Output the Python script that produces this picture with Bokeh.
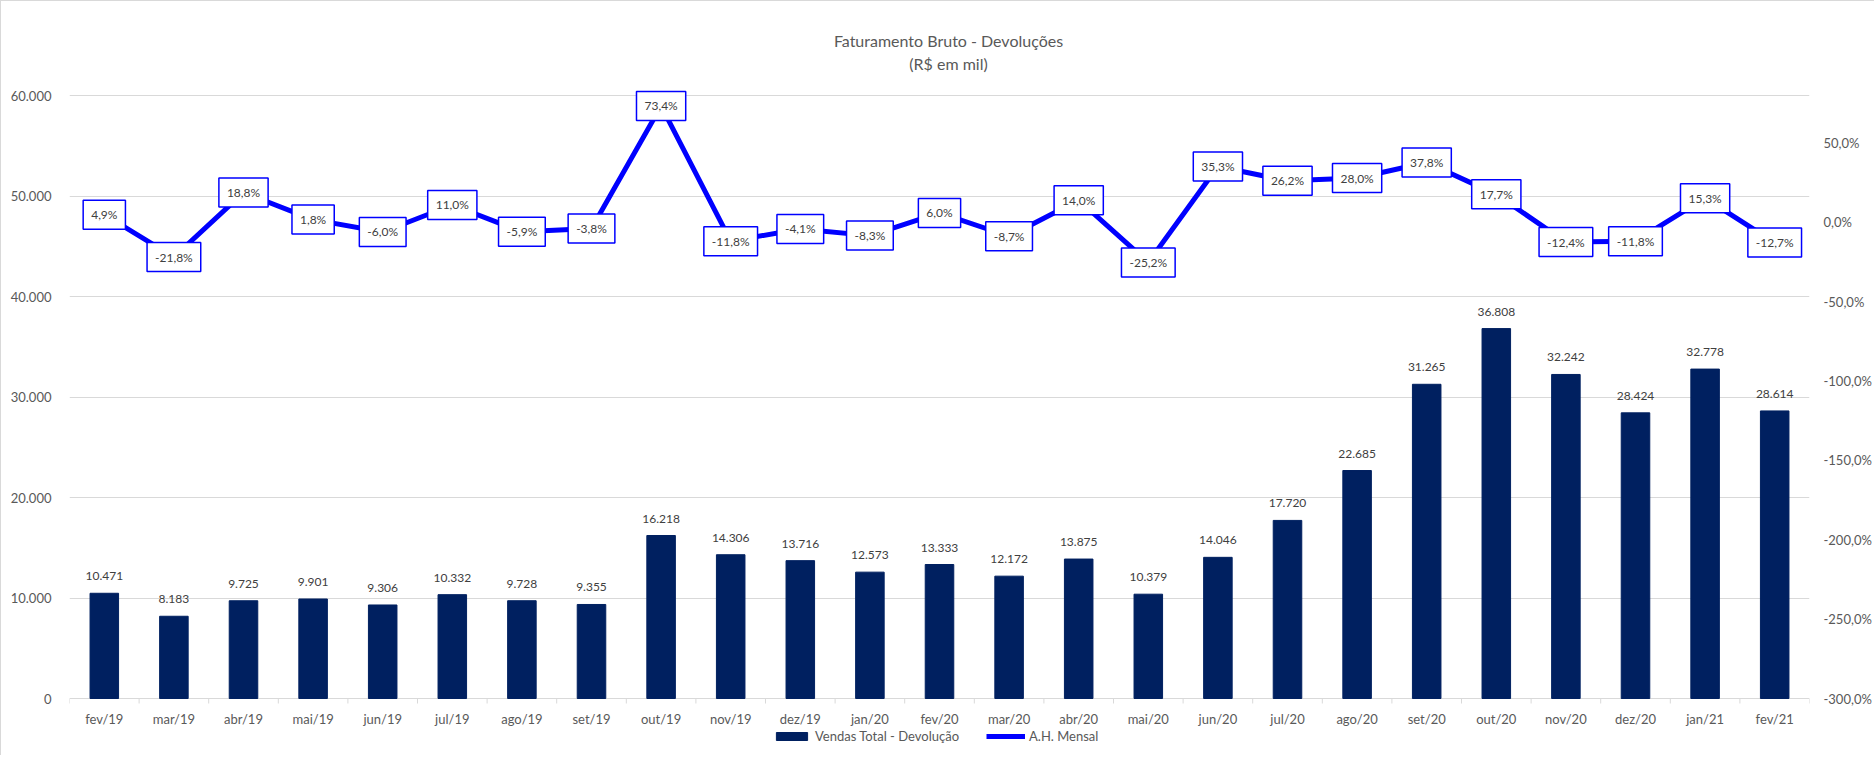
from bokeh.plotting import figure
from bokeh.models import (Range1d, LinearAxis, FixedTicker, LabelSet, Label, ColumnDataSource,
                          Legend, LegendItem)
from bokeh.core.properties import value
from bokeh.embed import file_html
from bokeh.resources import INLINE

months = ["fev/19", "mar/19", "abr/19", "mai/19", "jun/19", "jul/19", "ago/19", "set/19",
          "out/19", "nov/19", "dez/19", "jan/20", "fev/20", "mar/20", "abr/20", "mai/20",
          "jun/20", "jul/20", "ago/20", "set/20", "out/20", "nov/20", "dez/20", "jan/21", "fev/21"]
vendas = [10471, 8183, 9725, 9901, 9306, 10332, 9728, 9355, 16218, 14306, 13716, 12573,
          13333, 12172, 13875, 10379, 14046, 17720, 22685, 31265, 36808, 32242, 28424, 32778, 28614]
ah_mensal = [4.9, -21.8, 18.8, 1.8, -6.0, 11.0, -5.9, -3.8, 73.4, -11.8, -4.1, -8.3,
             6.0, -8.7, 14.0, -25.2, 35.3, 26.2, 28.0, 37.8, 17.7, -12.4, -11.8, 15.3, -12.7]
left_ticks = [0, 10000, 20000, 30000, 40000, 50000, 60000]
right_ticks = [-300, -250, -200, -150, -100, -50, 0, 50]
title_lines = ["Faturamento Bruto - Devoluções", "(R$ em mil)"]
series_names = ["Vendas Total - Devolução", "A.H. Mensal"]

FONT = "Lato"
GRAY = "#595959"
GRID = "#D9D9D9"

# vertical layout (px): axis span, space above it (titles) and below it (month labels, legend)
AXIS_PX = 603
TOP_PX = 84
BOTTOM_PX = 57
FRAME_PX = AXIS_PX + TOP_PX + BOTTOM_PX
L_MIN, L_MAX = 0, 60000
R_MIN, R_MAX = -300, 80
l_per_px = (L_MAX - L_MIN) / AXIS_PX
r_per_px = (R_MAX - R_MIN) / AXIS_PX

x = list(range(len(months)))
src = ColumnDataSource(dict(
    x=x,
    vendas=vendas,
    ah=ah_mensal,
    zero=[0] * len(months),
    month=months,
    vendas_lbl=[f"{v:,}".replace(",", ".") for v in vendas],
))
bounds = [i - 0.5 for i in range(len(months) + 1)]

p = figure(frame_width=1740, frame_height=FRAME_PX, output_backend="svg",
           toolbar_location=None, x_axis_location=None,
           x_range=Range1d(-0.5, len(months) - 0.5),
           y_range=Range1d(L_MIN - BOTTOM_PX * l_per_px, L_MAX + TOP_PX * l_per_px),
           min_border_left=68, min_border_right=0, min_border_top=10, min_border_bottom=0)
p.extra_y_ranges = {"pct": Range1d(R_MIN - BOTTOM_PX * r_per_px, R_MAX + TOP_PX * r_per_px)}
p.outline_line_color = None
p.background_fill_color = "white"
p.border_fill_color = "white"
p.styles = {"border-left": "1px solid #D9D9D9", "border-top": "1px solid #D9D9D9"}

bars = p.vbar(x="x", top="vendas", width=0.41, source=src, fill_color="#002060",
              line_color="#002060")
line = p.line(x="x", y="ah", source=src, y_range_name="pct", line_width=5,
              line_color="#0000FF", line_join="round")

# category axis: tick marks on category boundaries and month labels below the zero line
p.segment(x0=bounds, y0=[0] * len(bounds), x1=bounds, y1=[-5 * l_per_px] * len(bounds),
          line_color=GRID, line_width=1)
p.add_layout(LabelSet(x="x", y="zero", text="month", source=src, y_offset=-20,
                      text_align="center", text_baseline="middle",
                      text_font=value(FONT), text_font_size=value("13px"),
                      text_color=GRAY))

ya = p.yaxis[0]
ya.ticker = FixedTicker(ticks=left_ticks)
ya.major_label_overrides = {t: f"{t:,}".replace(",", ".") for t in left_ticks}
ya.axis_line_color = None
ya.major_tick_line_color = None
ya.minor_tick_line_color = None
ya.major_label_standoff = 12
ya.major_label_text_font = FONT
ya.major_label_text_font_size = "13px"
ya.major_label_text_color = GRAY

ra = LinearAxis(y_range_name="pct", ticker=FixedTicker(ticks=right_ticks))
ra.major_label_overrides = {t: f"{t:.1f}%".replace(".", ",") for t in right_ticks}
ra.axis_line_color = None
ra.major_tick_line_color = None
ra.minor_tick_line_color = None
ra.major_label_standoff = 8
ra.major_label_text_font = FONT
ra.major_label_text_font_size = "13px"
ra.major_label_text_color = GRAY
p.add_layout(ra, "right")

p.xgrid.visible = False
p.ygrid.ticker = FixedTicker(ticks=left_ticks)
p.ygrid.grid_line_color = GRID

# titles
xc = (len(months) - 1) / 2
for t, dy in zip(title_lines, [55, 32]):
    p.add_layout(Label(x=xc, y=L_MAX, x_offset=9, y_offset=dy, text=t, text_align="center",
                       text_baseline="middle", text_font=FONT, text_font_size="16px",
                       text_color=GRAY))

# data labels
p.add_layout(LabelSet(x="x", y="vendas", text="vendas_lbl", source=src, y_offset=17,
                      text_align="center", text_baseline="middle",
                      text_font=value(FONT), text_font_size=value("12px"),
                      text_color="#404040"))
for xi, yi in zip(x, ah_mensal):
    p.add_layout(Label(x=xi, y=yi, text=f"{yi:.1f}%".replace(".", ","), y_range_name="pct",
                       text_align="center", text_baseline="middle",
                       text_font=FONT, text_font_size="12px",
                       text_color="#404040", background_fill_color="white",
                       border_line_color="#0000FF", border_line_width=1.5,
                       padding=(8, 7)))

legend = Legend(items=[LegendItem(label=series_names[0], renderers=[bars]),
                       LegendItem(label=series_names[1], renderers=[line])],
                orientation="horizontal", location=(703, 11),
                glyph_width=39, glyph_height=10, label_standoff=4, spacing=27,
                padding=0, margin=0, border_line_color=None, background_fill_alpha=0,
                label_text_font=FONT, label_text_font_size="13px", label_text_color=GRAY)
p.add_layout(legend, "center")

open("out.html", "w").write(file_html(p, INLINE))
